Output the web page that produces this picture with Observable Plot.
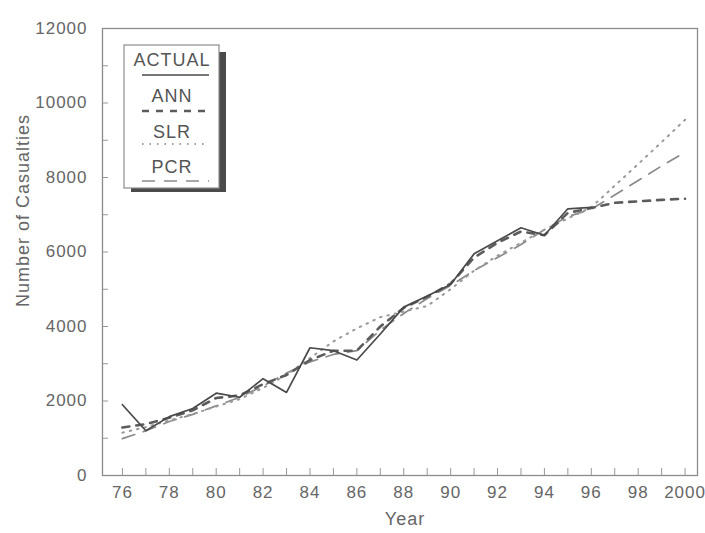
<!DOCTYPE html>
<html>
<head>
<meta charset="utf-8">
<script src="https://cdn.jsdelivr.net/npm/d3@7"></script>
<script src="https://cdn.jsdelivr.net/npm/@observablehq/plot@0.6"></script>
<style>
  html, body { margin: 0; padding: 0; background: #fff; }
  #chart svg text { fill: #666; letter-spacing: 1px; }
</style>
</head>
<body>
<div id="chart"></div>
<script>
// ---- data ----
const fitYears = [76,77,78,79,80,81,82,83,84,85,86,87,88,89,90,91,92,93,94,95,96];
const allYears = [76,77,78,79,80,81,82,83,84,85,86,87,88,89,90,91,92,93,94,95,96,97,98,99,100];
const actual = [1900,1200,1580,1800,2210,2100,2600,2230,3430,3350,3100,3800,4520,4820,5130,5950,6300,6650,6450,7160,7200];
const ann = [1290,1380,1550,1750,2080,2150,2450,2700,3100,3350,3350,4000,4500,4800,5150,5850,6250,6550,6450,7050,7180,7320,7360,7400,7430];
const slr = [1150,1300,1480,1650,1850,2050,2350,2700,3150,3600,3950,4250,4400,4550,5000,5500,5900,6250,6600,6900,7200,7780,8360,8950,9550];
const pcr = [990,1200,1450,1640,1870,2100,2400,2750,3050,3250,3350,3900,4350,4750,5100,5500,5850,6200,6600,6950,7150,7530,7920,8310,8680];
const seriesNames = ["ACTUAL","ANN","SLR","PCR"];
const xTicks = [76,78,80,82,84,86,88,90,92,94,96,98,100];
const xTickLabels = ["76","78","80","82","84","86","88","90","92","94","96","98","2000"];
const yTicks = [0,2000,4000,6000,8000,10000,12000];
const yMinor = [1000,2000,3000,4000,5000,6000,7000,8000,9000,10000,11000];
const xLabel = "Year";
const yLabel = "Number of Casualties";

// ---- layout ----
const W = 705, H = 533, mT = 28, mB = 58, mL = 102, mR = 8;
const frameH = H - mT - mB, frameW = W - mL - mR;

const styles = [
  {stroke: "#4a4a4a", strokeWidth: 1.7, strokeDasharray: null},
  {stroke: "#5c5c5c", strokeWidth: 2.6, strokeDasharray: "7,7"},
  {stroke: "#9a9a9a", strokeWidth: 2, strokeDasharray: "1.5,6"},
  {stroke: "#8a8a8a", strokeWidth: 1.7, strokeDasharray: "13,9"}
];

const rows = (years, vals, name) => years.map((y, i) => ({year: y, value: vals[i], series: name}));
const dataSets = [
  rows(fitYears, actual, seriesNames[0]),
  rows(allYears, ann, seriesNames[1]),
  rows(allYears, slr, seriesNames[2]),
  rows(allYears, pcr, seriesNames[3])
];

const lineMarks = [3, 2, 1, 0].map(i => Plot.line(dataSets[i], {
  x: "year", y: "value",
  stroke: styles[i].stroke, strokeWidth: styles[i].strokeWidth,
  strokeDasharray: styles[i].strokeDasharray
}));

const chart = Plot.plot({
  width: W, height: H,
  marginTop: mT, marginBottom: mB, marginLeft: mL, marginRight: mR,
  style: {fontFamily: "'Liberation Sans', Arial, sans-serif", fontSize: "17px", background: "#fff"},
  x: {domain: [75.15, 100.53]},
  y: {domain: [0, 12000]},
  marks: [
    Plot.ruleX(allYears, {x: d => d, insetTop: frameH - 7, stroke: "#999"}),
    Plot.ruleY(yMinor, {y: d => d, insetRight: frameW - 6, stroke: "#999"}),
    Plot.frame({stroke: "#8c8c8c", strokeWidth: 1.3}),
    Plot.axisX({ticks: xTicks, tickSize: 0, tickPadding: 10, label: null,
      tickFormat: d => xTickLabels[xTicks.indexOf(d)], fontSize: 17}),
    Plot.axisY({ticks: yTicks, tickSize: 0, tickPadding: 15, label: null,
      tickFormat: d => String(d), fontSize: 17}),
    ...lineMarks,
    Plot.text([yLabel], {frameAnchor: "top-left", textAnchor: "middle", dx: -86, dy: 182, rotate: -90,
      fontSize: 18, text: d => d, fill: "#555"}),
    Plot.text([xLabel], {frameAnchor: "bottom", dx: 5, dy: 49,
      fontSize: 18, text: d => d, fill: "#555"})
  ]
});

document.getElementById("chart").appendChild(chart);

// ---- legend box (inside plot, with drop shadow) ----
const svg = d3.select(chart);
const lg = svg.append("g");
lg.append("rect").attr("x", 131).attr("y", 52).attr("width", 95).attr("height", 140).attr("fill", "#4a4a4a");
lg.append("rect").attr("x", 124).attr("y", 45).attr("width", 95).attr("height", 143)
  .attr("fill", "#fff").attr("stroke", "#8c8c8c").attr("stroke-width", 1.2);
const textY = [60, 96, 132, 167];
const lineY = [75, 111, 144, 181];
seriesNames.forEach((name, i) => {
  lg.append("text").attr("x", 172).attr("y", textY[i])
    .attr("text-anchor", "middle").attr("dominant-baseline", "central")
    .style("font-family", "'Liberation Sans', Arial, sans-serif")
    .style("font-size", "18px").style("fill", "#555").text(name);
  lg.append("line").attr("x1", 142).attr("x2", 209).attr("y1", lineY[i]).attr("y2", lineY[i])
    .attr("stroke", styles[i].stroke).attr("stroke-width", styles[i].strokeWidth)
    .attr("stroke-dasharray", styles[i].strokeDasharray);
});
</script>
</body>
</html>
